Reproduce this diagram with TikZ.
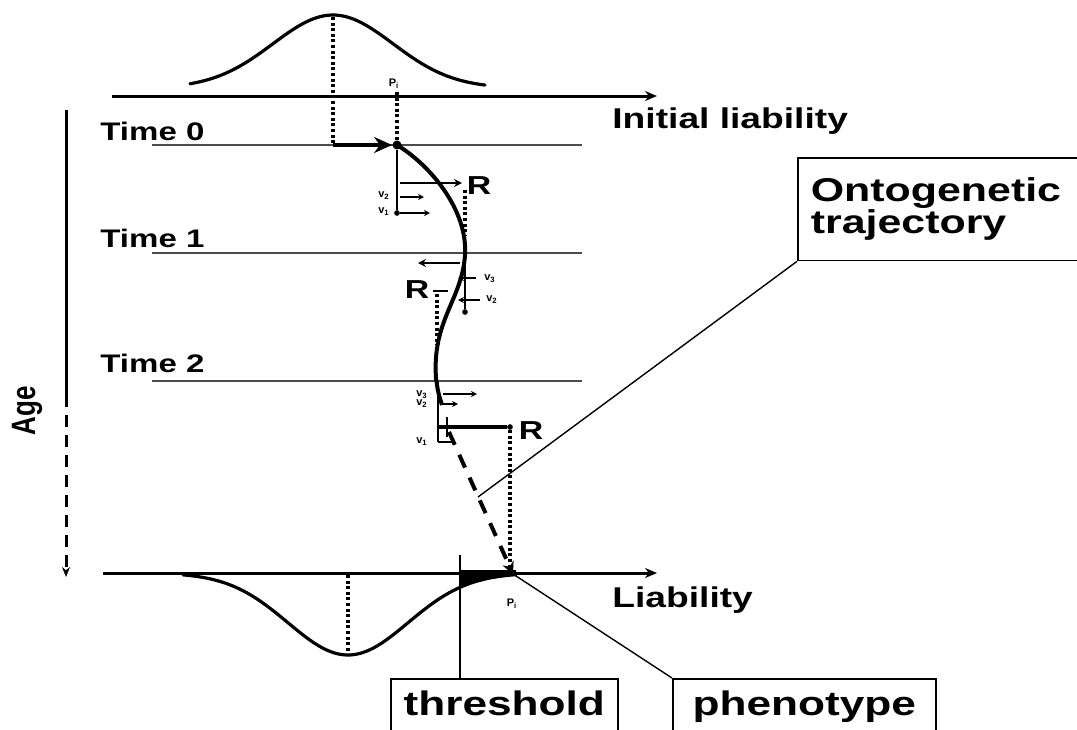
\documentclass[tikz,border=0pt]{standalone}
\usepackage{fontspec}
\setmainfont{Liberation Sans}
\usepackage{graphicx}
\usetikzlibrary{arrows.meta, positioning}
\newcommand{\wtext}[1]{\scalebox{1.3}[1]{#1}}
\tikzset{
  axisline/.style  = {-{Stealth[length=6pt,width=5pt]}, line width=1.5pt, black},
  timeline/.style  = {line width=1pt, black!70},
  trajline/.style  = {line width=2pt, black},
  gaussline/.style = {line width=1.6pt, black, line cap=round},
  dotv/.style      = {line width=1.6pt, dash pattern=on 1.5pt off 1.3pt},
  statedot/.style  = {circle, fill=black, inner sep=1.6pt},
  enddot/.style    = {circle, fill=black, inner sep=1pt},
  vec/.style       = {-{Stealth[length=3pt,width=3pt]}, line width=0.7pt},
  rvec/.style      = {-{Stealth[length=4pt,width=4pt]}, line width=1.2pt},
  lbl/.style       = {font=\bfseries\fontsize{14.3}{16}\selectfont, inner sep=0pt, anchor=base west},
  tlbl/.style      = {font=\bfseries\fontsize{12.7}{14}\selectfont, inner sep=0pt, anchor=base west},
  agelbl/.style    = {font=\bfseries\fontsize{13}{14}\selectfont, inner sep=0pt, rotate=90},
  rlbl/.style      = {font=\bfseries\fontsize{13}{14}\selectfont, inner sep=0pt},
  vlbl/.style      = {font=\bfseries\fontsize{5.5}{6}\selectfont, inner sep=0pt},
  callout/.style   = {draw, line width=0.8pt, anchor=north west,
                      font=\bfseries\fontsize{17}{16}\selectfont},
  leader/.style    = {line width=0.7pt, black},
}

\begin{document}
\begin{tikzpicture}[x=0.5pt, y=-0.5pt]
  \useasboundingbox (0,0) rectangle (1077,729);
  \clip (0,0) rectangle (1077,729);

  % age axis
  \coordinate (agetop) at (66,110);
  \coordinate (agemid) at (66,395);
  \coordinate (agebot) at (66,577);
  \draw[line width=1.5pt] (agetop) -- (agemid);
  \draw[line width=1.5pt, dash pattern=on 6pt off 4pt, -{Stealth[length=5pt,width=4pt]}] (agemid) -- (agebot);
  \node[agelbl] (age) at (27,411) {\scalebox{1}[1.3]{Age}};

  % liability axes
  \draw[axisline] (112,96) -- (657,96);
  \node[lbl] (initlbl) at (612,128) {\wtext{Initial liability}};
  \draw[axisline] (103,573) -- (657,573);
  \node[lbl] (liablbl) at (612,607) {\wtext{Liability}};

  % initial distribution
  \draw[gaussline] plot[domain=190:485, samples=80, smooth] (\x, {88-73*exp(-0.5*((\x-333)/60)^2)});
  \draw[dotv] (333,17) -- (333,145);
  \draw[dotv] (397,92) -- (397,145);
  \node[vlbl] (p0lbl) at (394,84) {P\textsubscript{i}};

  % time lines
  \foreach \t/\y/\b in {0/145/140, 1/253/247, 2/381/372} {
    \draw[timeline] (152,\y) -- (582,\y);
    \node[tlbl] (time\t) at (100,\b) {\wtext{Time \t}};
  }

  % trajectory
  \node[statedot] (p0) at (397,145) {};
  \draw[line width=2.2pt, -{Stealth[length=9pt,width=8pt]}] (333,145) -- (p0.west);
  \coordinate (t1) at (465,255);
  \coordinate (t2) at (436,378);
  \coordinate (t2end) at (442,405);
  \draw[trajline] (p0.center) .. controls (430,165) and (468,210) .. (t1)
    .. controls (462,300) and (432,320) .. (t2) .. controls (438,392) .. (t2end);

  % increments at time 0
  \node[enddot] (v0end) at (397,213) {};
  \draw[line width=0.7pt] (p0) -- (v0end);
  \draw[rvec] (400,183) -- (462,183);
  \node[rlbl] (r0) at (479,186) {\wtext{R}};
  \draw[vec] (400,197) -- (424,197);
  \draw[vec] (400,213) -- (430,213);
  \node[vlbl] (v0b) at (384,196) {v\textsubscript{2}};
  \node[vlbl] (v0a) at (384,212) {v\textsubscript{1}};
  \draw[dotv] (465,190) -- (465,235);

  % increments at time 1
  \node[enddot] (v1end) at (465,312) {};
  \draw[line width=0.7pt] (465,260) -- (v1end);
  \draw[rvec] (460,263) -- (418,263);
  \node[rlbl] (r1) at (417,290) {\wtext{R}};
  \draw[line width=1.2pt] (433,291) -- (448,291);
  \draw[dotv] (437,294) -- (437,345);
  \draw[vec] (476,278) -- (458,278);
  \draw[vec] (480,300) -- (458,300);
  \node[vlbl] (v1c) at (490,279) {v\textsubscript{3}};
  \node[vlbl] (v1b) at (492,300) {v\textsubscript{2}};

  % increments at time 2
  \draw[line width=0.7pt] (438,382) -- (438,442);
  \draw[vec] (443,394) -- (477,394);
  \draw[vec] (442,404) -- (458,404);
  \node[vlbl] (v2c) at (422,395) {v\textsubscript{3}};
  \node[vlbl] (v2b) at (422,404) {v\textsubscript{2}};
  \node[vlbl] (v2a) at (422,442) {v\textsubscript{1}};
  \draw[line width=1.2pt] (438,442) -- (455,442);
  \node[enddot] (r2end) at (510,427) {};
  \draw[line width=1.6pt] (438,427) -- (r2end);
  \draw[line width=1.2pt] (447,417) -- (447,437);
  \node[rlbl] (r2) at (531,431) {\wtext{R}};
  \coordinate (pfin) at (513,574);
  \draw[dotv] (r2end) -- (510,568);
  \draw[line width=2pt, dash pattern=on 7pt off 5.5pt, -{Stealth[length=6pt,width=6pt]}] (449,432) -- (pfin);

  % final distribution
  \draw[gaussline] plot[domain=183:516, samples=80, smooth] (\x, {573+82*exp(-0.5*((\x-348)/60)^2)});
  \fill plot[domain=460:516, samples=20, smooth] (\x, {573+82*exp(-0.5*((\x-348)/60)^2)}) -- (516,570) -- (460,570) -- cycle;
  \draw[dotv] (348,575) -- (348,653);
  \node[vlbl] (pflbl) at (512,604) {P\textsubscript{i}};

  % callouts
  \node[callout, text width=140pt, align=left, inner xsep=6.5pt, inner ysep=10pt,
        font=\bfseries\fontsize{16.5}{16}\selectfont] (onto) at (797,157)
        {\wtext{Ontogenetic}\\\wtext{trajectory}};
  \node[callout, text height=12.4pt, text depth=20pt, inner ysep=6pt, minimum width=113.5pt] (thr) at (390,678) {\wtext{threshold}};
  \node[callout, text height=12.4pt, text depth=20pt, inner ysep=6pt, minimum width=131.5pt] (phen) at (672,678) {\wtext{phenotype}};
  \coordinate (ontoend) at (478,497);
  \draw[leader] (onto.south west) -- (ontoend);
  \coordinate (thrtop) at (460,555);
  \draw[leader] (thr.north -| thrtop) -- (thrtop);
  \draw[leader] (phen.north west) -- (pfin);
\end{tikzpicture}
\end{document}
